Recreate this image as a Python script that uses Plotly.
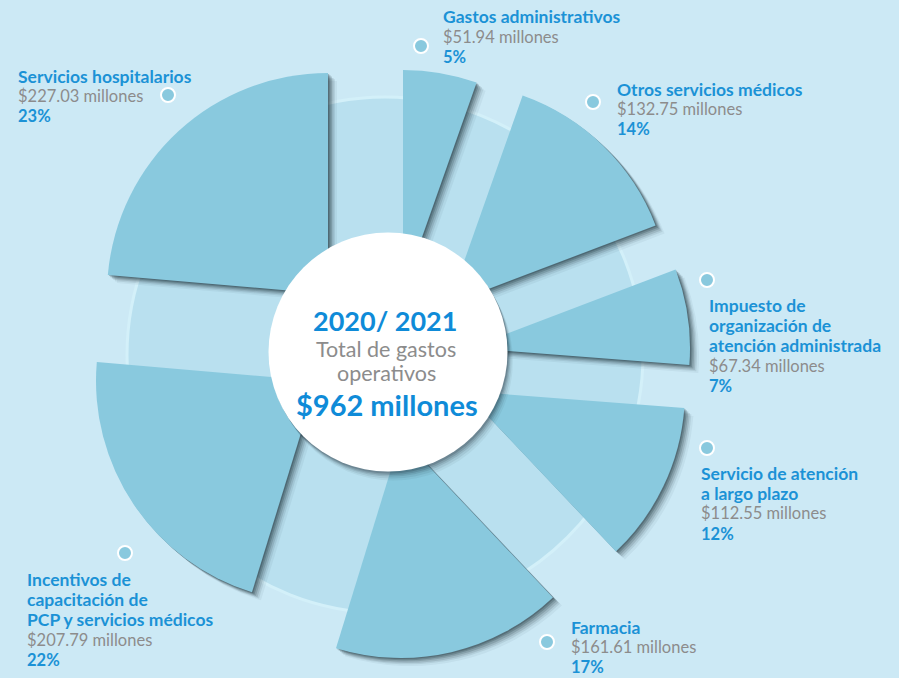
import plotly.graph_objects as go

# ---------------- data ----------------
categories = [
    "Gastos administrativos",
    "Otros servicios médicos",
    "Impuesto de<br>organización de<br>atención administrada",
    "Servicio de atención<br>a largo plazo",
    "Farmacia",
    "Incentivos de<br>capacitación de<br>PCP y servicios médicos",
    "Servicios hospitalarios",
]
values = [51.94, 132.75, 67.34, 112.55, 161.61, 207.79, 227.03]   # millones
percents = [5, 14, 7, 12, 17, 22, 23]
center_year = "2020/ 2021"
center_caption = ["Total de gastos", "operativos"]
center_total = "$962 millones"

# ---------------- layout / style constants ----------------
W, H = 899, 678
R = 221                    # wedge radius (px)
# apex (tip) position of each exploded wedge, in px from top-left
apex = [(403, 291), (449, 304), (469, 348), (464, 391), (401, 437), (317, 381), (328, 294)]
label_pos = [(441, 17), (615, 89), (707, 305), (699, 473), (569, 627), (25, 579), (16, 76)]
dot_pos = [(421, 46), (593, 102), (707, 280), (707, 448), (547, 642), (125, 553), (168, 95)]
LINE = 20.2

BG = "#cce9f5"
DISK = "#b9e0ef"
WEDGE = "#89c9de"
BLUE = "#1b92d6"
BLUE2 = "#0f8bd8"
GRAY = "#8c8c8c"
FONT = "Lato"
CLEAR = "rgba(0,0,0,0)"


def px(x):
    return x / W


def py(y):
    return 1 - y / H


def pie_domain(cx, cy):
    return dict(x=[px(cx - R), px(cx + R)], y=[py(cy + R), py(cy - R)])


fig = go.Figure()
n = len(values)

# soft drop shadow of the wedges (same data, offset & translucent)
for off, a in [(9, 0.05), (7, 0.09), (5.5, 0.13), (4, 0.17), (2.5, 0.22), (1.2, 0.26)]:
    for i in range(n):
        cols = [CLEAR] * n
        cols[i] = f"rgba(20,40,50,{a})"
        fig.add_trace(go.Pie(
            values=values, labels=categories, sort=False, direction="clockwise",
            rotation=0, domain=pie_domain(apex[i][0] + off, apex[i][1] + off * 0.9),
            marker=dict(colors=cols, line=dict(width=0)),
            textinfo="none", hoverinfo="skip", showlegend=False,
        ))

# main wedges (one exploded wedge per trace)
for i in range(n):
    cols = [CLEAR] * n
    cols[i] = WEDGE
    fig.add_trace(go.Pie(
        values=values, labels=categories, sort=False, direction="clockwise",
        rotation=0, domain=pie_domain(*apex[i]),
        marker=dict(colors=cols, line=dict(width=0)),
        textinfo="none", hoverinfo="skip", showlegend=False,
    ))


def circle(cx, cy, r, fill, line_color=None, lw=0, layer="above"):
    return dict(type="circle", xref="paper", yref="paper",
                x0=px(cx - r), x1=px(cx + r), y0=py(cy + r), y1=py(cy - r),
                fillcolor=fill, line=dict(color=line_color or fill, width=lw),
                layer=layer)


shapes = []
# pale disk behind the wedges
shapes.append(circle(385, 355, 258, DISK, "#d3f0f9", 3, layer="below"))
# white centre circle with soft shadow
for off, a in [(9, 0.05), (7, 0.08), (5, 0.11), (3.5, 0.14), (2, 0.18)]:
    shapes.append(circle(388 + off * 0.6, 352 + off, 119.5, f"rgba(15,30,40,{a})"))
shapes.append(circle(388, 352, 119.5, "#ffffff"))
# label dots
for (dx, dy) in dot_pos:
    shapes.append(circle(dx, dy, 7, WEDGE, "#ffffff", 2))

annotations = []


def txt(x, y, text, size, color, bold=False, anchor="left"):
    t = f"<b>{text}</b>" if bold else text
    annotations.append(dict(x=px(x), y=py(y), xref="paper", yref="paper",
                            text=t, showarrow=False, xanchor=anchor, yanchor="middle",
                            font=dict(family=FONT, size=size, color=color)))


for cat, val, pct, (lx, ly) in zip(categories, values, percents, label_pos):
    y = ly
    for ln in cat.split("<br>"):
        txt(lx, y, ln, 17.5, BLUE, bold=True)
        y += LINE
    txt(lx, y, f"${val:.2f} millones", 16.5, GRAY)
    y += LINE
    txt(lx, y, f"{pct}%", 16.5, BLUE, bold=True)

# centre text
txt(385, 320, center_year, 27, BLUE2, bold=True, anchor="center")
txt(386, 349, center_caption[0], 21.5, GRAY, anchor="center")
txt(386, 373, center_caption[1], 21.5, GRAY, anchor="center")
txt(387, 404, center_total, 29, BLUE2, bold=True, anchor="center")

fig.update_layout(
    width=W, height=H, margin=dict(l=0, r=0, t=0, b=0),
    paper_bgcolor=BG, plot_bgcolor=BG,
    shapes=shapes, annotations=annotations, showlegend=False,
)

fig.write_html("out.html", config={"displayModeBar": False},
               post_script="document.body.style.margin='0px';")
